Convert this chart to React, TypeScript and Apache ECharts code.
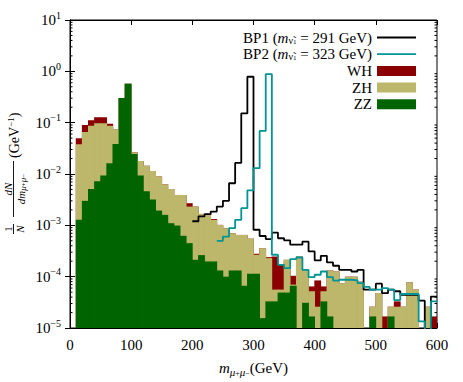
import React, { useEffect, useRef } from "react";
import * as echarts from "echarts";

const FONT = "'Liberation Serif', 'Times New Roman', 'DejaVu Serif', serif";

const BIN_WIDTH = 10;
const X_MIN = 0;
const X_MAX = 600;
const X_STEP = 100;
const Y_MIN = 1e-5;
const Y_MAX = 10;

const binStarts = Array.from({ length: 60 }, (_, i) => i * BIN_WIDTH);

// visible top of the ZZ histogram (green)
const zzValues = [
  0, 0.00128, 0.003, 0.0051, 0.0072, 0.0093, 0.0162, 0.0385, 0.303, 0.574,
  0.0246, 0.0094, 0.0046, 0.0032, 0.00194, 0.0016, 0.0011, 0.00099, 0.000625, 0.00045,
  0.000213, 0.000263, 0.000198, 0.000198, 0.000132, 0.0001, 0.000132, 0.000132, 0.0000665, 0.000114,
  0.000114, 0.0000156, 0.000033, 0.000033, 0.000049, 0.000049, 0.0000665, 0, 0.000031, 0.0000168,
  0, 0.000033, 0.0000168, 0, 0, 0, 0, 0, 0, 0.0000168,
  0, 0, 0.0000168, 0, 0, 0, 0, 0, 0, 0,
];

// visible top of the ZH histogram (khaki)
const zhValues = [
  0, 0.038, 0.066, 0.0875, 0.097, 0.097, 0.0875, 0.074, 0.303, 0.574,
  0.0265, 0.018, 0.0144, 0.0114, 0.0089, 0.0063, 0.0051, 0.0039, 0.0039, 0.00232,
  0.00232, 0.00167, 0.00167, 0.00128, 0.00102, 0.00088, 0.0007, 0.00065, 0.00065, 0.00055,
  0.000267, 0.00036, 0.00023, 0.000056, 0.000056, 0.000213, 0.00007, 0.000247, 0.000136, 0.000052,
  0.000026, 0.000052, 0.000132, 0.000126, 0.000075, 0.0001, 0.0001, 0.00008, 0, 0.000026,
  0.000048, 0, 0.000026, 0.000026, 0.000026, 0.000077, 0.000056, 0, 0.000026, 0,
];

// visible top of the WH histogram (dark red)
const whValues = [
  0, 0.0497, 0.09, 0.111, 0.127, 0.127, 0.0957, 0.074, 0.303, 0.574,
  0.0265, 0.018, 0.0144, 0.0114, 0.0089, 0.0063, 0.0051, 0.0039, 0.0039, 0.0027,
  0.00232, 0.00167, 0.00167, 0.00133, 0.00102, 0.00088, 0.0007, 0.00065, 0.00065, 0.00055,
  0.00028, 0.00036, 0.00024, 0.000247, 0.00017, 0.000213, 0.000104, 0.000247, 0.000136, 0.0000645,
  0.0000845, 0.0000645, 0.000132, 0.000126, 0.000075, 0.0001, 0.0001, 0.00008, 0, 0.000026,
  0.000048, 0.0000168, 0.000026, 0.000033, 0.000026, 0.000077, 0.000056, 0, 0.000026, 0.0000168,
];

// BP1 (m = 291 GeV), null where the curve is not drawn
const bp1Values = [
  null, null, null, null, null, null, null, null, null, null,
  null, null, null, null, null, null, null, null, null, null,
  0.0012, 0.0015, 0.00165, 0.00185, 0.00232, 0.003, 0.0066, 0.0164, 0.152, 0.785,
  0.00082, 0.00062, 0.00054, 0.00072, 0.00056, 0.00051, 0.00042, 0.00042, 0.00048, 0.00031,
  0.000207, 0.000255, 0.00019, 0.000163, 0.000136, 0.000136, 0.000126, 0.000136, 0.000056, 0.000056,
  0.000073, 0.000048, 0.000056, 0.000052, 0.000044, 0.000044, 0.000044, 0.000034, 0.000001, 0.000041,
];

// BP2 (m = 323 GeV)
const bp2Values = [
  null, null, null, null, null, null, null, null, null, null,
  null, null, null, null, null, null, null, null, null, null,
  null, null, null, null, 0.0005, 0.0006, 0.00088, 0.00128, 0.00216, 0.0048,
  0.013, 0.069, 0.885, 0.000267, 0.00017, 0.000147, 0.00022, 0.000236, 0.000136, 0.000098,
  0.000109, 0.000126, 0.000098, 0.000084, 0.000087, 0.000087, 0.000085, 0.000075, 0.000063, 0.000056,
  0.000056, 0.00006, 0.000056, 0.000035, 0.000046, 0.000046, 0.000046, 0.0000135, 0.000001, 0.000033,
];

const minorTickValues = [
  2e-5, 3e-5, 4e-5, 5e-5, 6e-5, 7e-5, 8e-5, 9e-5,
  2e-4, 3e-4, 4e-4, 5e-4, 6e-4, 7e-4, 8e-4, 9e-4,
  2e-3, 3e-3, 4e-3, 5e-3, 6e-3, 7e-3, 8e-3, 9e-3,
  2e-2, 3e-2, 4e-2, 5e-2, 6e-2, 7e-2, 8e-2, 9e-2,
  0.2, 0.3, 0.4, 0.5, 0.6, 0.7, 0.8, 0.9,
  2, 3, 4, 5, 6, 7, 8, 9,
];

const legendNames = ["BP1", "BP2", "WH", "ZH", "ZZ"];
const bpMasses: Record<string, number> = { BP1: 291, BP2: 323 };

const COLORS: Record<string, string> = {
  BP1: "#000000",
  BP2: "#009494",
  WH: "#8b0000",
  ZH: "#bdb76b",
  ZZ: "#006400",
};

const LINE_ICON = "path://M0,0H40V1.8H0Z";

function histSeries(name: string, values: number[]) {
  const color = COLORS[name];
  return {
    name,
    type: "custom",
    xAxisIndex: 0,
    yAxisIndex: 0,
    clip: true,
    itemStyle: { color },
    encode: { x: [0, 1], y: 2 },
    data: values.map((v, i) => [binStarts[i], binStarts[i] + BIN_WIDTH, v > 0 ? v : Y_MIN]),
    renderItem: (params: any, api: any) => {
      const v = api.value(2);
      if (!(v > Y_MIN)) return null;
      const tl = api.coord([api.value(0), v]);
      const br = api.coord([api.value(1), Y_MIN]);
      return {
        type: "rect",
        shape: { x: tl[0] - 0.35, y: tl[1], width: br[0] - tl[0] + 0.7, height: br[1] - tl[1] },
        style: { fill: color },
      };
    },
  };
}

function stepSeries(name: string, values: (number | null)[]) {
  const pts: number[][] = [];
  values.forEach((v, i) => {
    if (v != null) pts.push([binStarts[i], v]);
  });
  const last = values.length - 1;
  pts.push([binStarts[last] + BIN_WIDTH, values[last] as number]);
  return {
    name,
    type: "line",
    step: "end",
    symbol: "none",
    clip: true,
    xAxisIndex: 0,
    yAxisIndex: 0,
    data: pts,
    lineStyle: { color: COLORS[name], width: 1.8 },
    itemStyle: { color: COLORS[name] },
  };
}

function buildOption() {
  const expLabel = (value: number) => {
    const e = Math.round(Math.log10(value));
    const s = e < 0 ? "\u2212" + -e : String(e);
    return `{b|10}{e|${s}}`;
  };

  const legendText = (name: string) => {
    if (bpMasses[name] != null) {
      return `{t|${name} (}{i|m}{s|\u03bd\u0303}{ss|1}{t| = ${bpMasses[name]} GeV)}`;
    }
    return `{t|${name}}`;
  };

  return {
    animation: false,
    backgroundColor: "#ffffff",
    grid: {
      left: 70,
      right: 26,
      top: 20,
      bottom: 54,
      show: true,
      borderColor: "#000",
      borderWidth: 1,
      backgroundColor: "transparent",
    },
    legend: {
      orient: "vertical",
      right: 42,
      top: 25,
      align: "right",
      itemWidth: 39,
      itemHeight: 10,
      itemGap: 1.7,
      selectedMode: false,
      data: legendNames.map((n) => ({ name: n, icon: n.startsWith("BP") ? LINE_ICON : "rect" })),
      formatter: legendText,
      textStyle: {
        fontFamily: FONT,
        fontSize: 15,
        color: "#000",
        rich: {
          t: { fontFamily: FONT, fontSize: 15, color: "#000", lineHeight: 15 },
          i: { fontFamily: FONT, fontSize: 15, fontStyle: "italic", color: "#000", lineHeight: 15 },
          s: { fontFamily: FONT, fontSize: 10, color: "#000", lineHeight: 6, verticalAlign: "bottom" },
          ss: { fontFamily: FONT, fontSize: 7, color: "#000", lineHeight: 2, verticalAlign: "bottom" },
        },
      },
    },
    xAxis: [
      {
        type: "value",
        min: X_MIN,
        max: X_MAX,
        interval: X_STEP,
        position: "bottom",
        splitLine: { show: false },
        axisLine: { show: true, lineStyle: { color: "#000", width: 1 } },
        axisTick: { inside: true, length: 5, lineStyle: { color: "#000" } },
        axisLabel: { fontFamily: FONT, fontSize: 15, color: "#000", margin: 9 },
        name: "{i|m}{s|\u03bc}{p|+}{s|\u03bc}{p|\u2212}{n|(GeV)}",
        nameLocation: "middle",
        nameGap: 31,
        nameTextStyle: {
          rich: {
            i: { fontFamily: FONT, fontSize: 15, fontStyle: "italic", color: "#000", lineHeight: 18 },
            s: { fontFamily: FONT, fontSize: 11, fontStyle: "italic", color: "#000", lineHeight: 8, verticalAlign: "bottom" },
            p: { fontFamily: FONT, fontSize: 8, color: "#000", lineHeight: 14, verticalAlign: "bottom" },
            n: { fontFamily: FONT, fontSize: 15, color: "#000", lineHeight: 18 },
          },
        },
      },
      {
        type: "value",
        min: X_MIN,
        max: X_MAX,
        interval: X_STEP,
        position: "top",
        splitLine: { show: false },
        axisLine: { show: true, lineStyle: { color: "#000", width: 1 } },
        axisTick: { inside: true, length: 5, lineStyle: { color: "#000" } },
        axisLabel: { show: false },
      },
    ],
    yAxis: [
      {
        type: "log",
        logBase: 10,
        min: Y_MIN,
        max: Y_MAX,
        position: "left",
        splitLine: { show: false },
        axisLine: { show: true, lineStyle: { color: "#000", width: 1 } },
        axisTick: { inside: true, length: 5, lineStyle: { color: "#000" } },
        axisLabel: {
          margin: 9,
          formatter: expLabel,
          rich: {
            b: { fontFamily: FONT, fontSize: 15, color: "#000", lineHeight: 20 },
            e: { fontFamily: FONT, fontSize: 10, color: "#000", lineHeight: 10, verticalAlign: "top" },
          },
        },
      },
      {
        type: "log",
        logBase: 10,
        min: Y_MIN,
        max: Y_MAX,
        position: "right",
        splitLine: { show: false },
        axisLine: { show: true, lineStyle: { color: "#000", width: 1 } },
        axisTick: { inside: true, length: 5, lineStyle: { color: "#000" } },
        axisLabel: { show: false },
      },
    ],
    graphic: [
      {
        type: "group",
        x: 13.5,
        y: 234,
        rotation: Math.PI / 2,
        children: [
          { type: "text", x: 5, y: -6, style: { text: "1", font: `11px ${FONT}`, fill: "#000", align: "center", verticalAlign: "middle" } },
          { type: "line", shape: { x1: 0, y1: 0, x2: 10, y2: 0 }, style: { stroke: "#000", lineWidth: 0.9 } },
          { type: "text", x: 5, y: 6.5, style: { text: "N", font: `italic 11px ${FONT}`, fill: "#000", align: "center", verticalAlign: "middle" } },
          { type: "text", x: 45, y: -6, style: { text: "dN", font: `italic 11px ${FONT}`, fill: "#000", align: "center", verticalAlign: "middle" } },
          { type: "line", shape: { x1: 17, y1: 0, x2: 73, y2: 0 }, style: { stroke: "#000", lineWidth: 0.9 } },
          {
            type: "text",
            x: 45,
            y: 7,
            style: {
              text: "{i|dm}{s|\u03bc}{p|+}{s|\u03bc}{p|\u2212}",
              align: "center",
              verticalAlign: "middle",
              rich: {
                i: { fontFamily: FONT, fontSize: 11, fontStyle: "italic", fill: "#000", lineHeight: 13 },
                s: { fontFamily: FONT, fontSize: 9, fontStyle: "italic", fill: "#000", lineHeight: 6, verticalAlign: "bottom" },
                p: { fontFamily: FONT, fontSize: 7, fill: "#000", lineHeight: 10, verticalAlign: "bottom" },
              },
            },
          },
          {
            type: "text",
            x: 76,
            y: 1,
            style: {
              text: "{n|(GeV}{e|\u22121}{n|)}",
              align: "left",
              verticalAlign: "middle",
              rich: {
                n: { fontFamily: FONT, fontSize: 14, fill: "#000", lineHeight: 17 },
                e: { fontFamily: FONT, fontSize: 9, fill: "#000", lineHeight: 8, verticalAlign: "top" },
              },
            },
          },
        ],
      },
    ],
    series: [
      stepSeries("BP1", bp1Values),
      stepSeries("BP2", bp2Values),
      histSeries("WH", whValues),
      histSeries("ZH", zhValues),
      histSeries("ZZ", zzValues),
      {
        name: "minorTicks",
        type: "custom",
        xAxisIndex: 0,
        yAxisIndex: 0,
        silent: true,
        z: 10,
        encode: { x: 0, y: 1 },
        data: minorTickValues.map((v) => [X_MIN, v]),
        renderItem: (params: any, api: any) => {
          const cs = params.coordSys;
          const y = api.coord([X_MIN, api.value(1)])[1];
          return {
            type: "group",
            children: [
              { type: "line", shape: { x1: cs.x, y1: y, x2: cs.x + 2.5, y2: y }, style: { stroke: "#000", lineWidth: 1 } },
              { type: "line", shape: { x1: cs.x + cs.width - 2.5, y1: y, x2: cs.x + cs.width, y2: y }, style: { stroke: "#000", lineWidth: 1 } },
            ],
          };
        },
      },
    ],
  };
}

export default function App() {
  const ref = useRef<HTMLDivElement>(null);
  useEffect(() => {
    if (!ref.current) return;
    const chart = echarts.init(ref.current, null, { renderer: "svg" });
    chart.setOption(buildOption() as any);
    return () => chart.dispose();
  }, []);
  return (
    <div
      ref={ref}
      style={{ position: "absolute", left: 0, top: 0, width: 463, height: 382, background: "#fff" }}
    />
  );
}
